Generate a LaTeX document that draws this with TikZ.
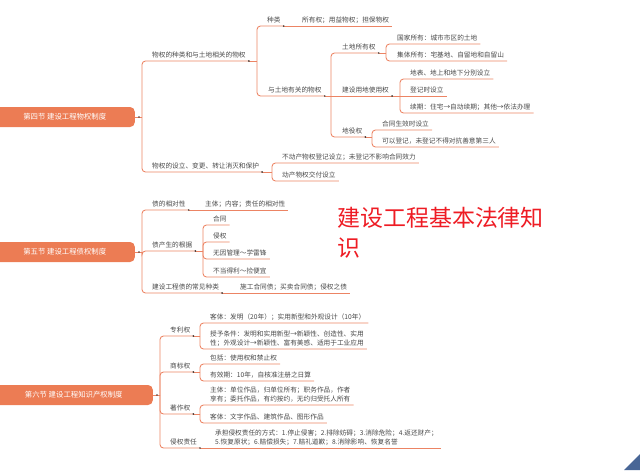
\documentclass[tikz,border=0pt]{standalone}
\usepackage{fontspec}
\newfontfamily\cjk{Noto Sans CJK SC}
\definecolor{lineclr}{RGB}{236,132,100}
\definecolor{rootclr}{RGB}{236,124,84}
\definecolor{txtclr}{RGB}{72,72,72}
\definecolor{markclr}{RGB}{70,60,55}
\definecolor{titleclr}{RGB}{238,28,36}
\definecolor{cornerclr}{RGB}{72,102,150}

\begin{document}
\begin{tikzpicture}[x=0.03cm, y=-0.03cm,
    rootbox/.style={fill=rootclr, rounded corners=4pt, minimum height=0.6cm, inner sep=0pt,
                    font=\cjk\fontsize{6.3}{7}\selectfont, text=white, anchor=east},
    topic/.style={anchor=south west, inner xsep=2.5pt, inner ysep=2pt, align=left,
                  font=\cjk\fontsize{5.7}{7.8}\selectfont, text=txtclr},
    link/.style={draw=lineclr, line width=0.75pt, rounded corners=3pt},
    title/.style={anchor=north west, inner sep=0pt, align=left,
                  font=\cjk\fontsize{19.6}{25.6}\selectfont, text=titleclr}]
  \useasboundingbox (0,0) rectangle (640,470);

  % 第四节
  \node[rootbox, minimum width=4.2cm] (s4) at (135,117) {第四节\ 建设工程物权制度};
  \node[topic] (A1) at (149,61) {物权的种类和与土地相关的物权};
  \node[topic] (B1) at (264,26) {种类};
  \node[topic] (C1) at (299,26) {所有权；用益物权；担保物权};
  \node[topic] (B2) at (265,96) {与土地有关的物权};
  \node[topic] (C2) at (339,53) {土地所有权};
  \node[topic] (D1) at (394,44) {国家所有：城市市区的土地};
  \node[topic] (D2) at (394,61) {集体所有：宅基地、自留地和自留山};
  \node[topic] (C3) at (339,96) {建设用地使用权};
  \node[topic] (D3) at (407,79) {地表、地上和地下分别设立};
  \node[topic] (D4) at (407,96) {登记时设立};
  \node[topic] (D5) at (407,113) {续期：住宅→自动续期；其他→依法办理};
  \node[topic] (C4) at (339,137) {地役权};
  \node[topic] (D6) at (379,130) {合同生效时设立};
  \node[topic] (D7) at (379,147) {可以登记，未登记不得对抗善意第三人};
  \node[topic] (A2) at (149,172) {物权的设立、变更、转让消灭和保护};
  \node[topic] (B3) at (279,163) {不动产物权登记设立；未登记不影响合同效力};
  \node[topic] (B4) at (279,181) {动产物权交付设立};

  \coordinate (j4) at (142,117);
  \coordinate (jA1) at (257,61);
  \coordinate (jB2) at (331,96);
  \coordinate (jC2) at (386,53);
  \coordinate (jC3) at (400,96);
  \coordinate (jC4) at (372,137);
  \coordinate (jA2) at (272,172);

  \draw[link] (s4.east) -- (j4);
  \draw[link] (j4) |- (A1.south east);
  \draw[link] (j4) |- (A2.south east);
  \draw[link] (A1.south east) -- (jA1);
  \draw[link] (jA1) |- (B1.south east);
  \draw[link] (jA1) |- (B2.south east);
  \draw[link] (B1.south east) -- (C1.south east);
  \draw[link] (B2.south east) -- (jB2);
  \draw[link] (jB2) |- (C2.south east);
  \draw[link] (jB2) -- (C3.south east);
  \draw[link] (jB2) |- (C4.south east);
  \draw[link] (C2.south east) -- (jC2);
  \draw[link] (jC2) |- (D1.south east);
  \draw[link] (jC2) |- (D2.south east);
  \draw[link] (C3.south east) -- (jC3);
  \draw[link] (jC3) |- (D3.south east);
  \draw[link] (jC3) -- (D4.south east);
  \draw[link] (jC3) |- (D5.south east);
  \draw[link] (C4.south east) -- (jC4);
  \draw[link] (jC4) |- (D6.south east);
  \draw[link] (jC4) |- (D7.south east);
  \draw[link] (A2.south east) -- (jA2);
  \draw[link] (jA2) |- (B3.south east);
  \draw[link] (jA2) |- (B4.south east);

  % 第五节
  \node[rootbox, minimum width=4.2cm] (s5) at (135,252) {第五节\ 建设工程债权制度};
  \node[topic] (E1) at (149,210) {债的相对性};
  \node[topic] (F1) at (202,210) {主体；内容；责任的相对性};
  \node[topic] (E2) at (149,251) {债产生的根据};
  \node[topic] (F2) at (210,225) {合同};
  \node[topic] (F3) at (210,242) {侵权};
  \node[topic] (F4) at (210,259) {无因管理～学雷锋};
  \node[topic] (F5) at (210,277) {不当得利～捡便宜};
  \node[topic] (E3) at (149,293) {建设工程债的常见种类};
  \node[topic] (F6) at (237,293) {施工合同债；买卖合同债；侵权之债};

  \coordinate (j5) at (142,252);
  \coordinate (jE2) at (203,251);

  \draw[link] (s5.east) -- (j5);
  \draw[link] (j5) |- (E1.south east);
  \draw[link] (j5) |- (E2.south east);
  \draw[link] (j5) |- (E3.south east);
  \draw[link] (E1.south east) -- (F1.south east);
  \draw[link] (E2.south east) -- (jE2);
  \draw[link] (jE2) |- (F2.south east);
  \draw[link] (jE2) |- (F3.south east);
  \draw[link] (jE2) |- (F4.south east);
  \draw[link] (jE2) |- (F5.south east);
  \draw[link] (E3.south east) -- (F6.south east);

  \node[title] (ttl) at (337,207) {建设工程基本法律知\\识};

  % 第六节
  \node[rootbox, minimum width=4.74cm] (s6) at (153,395) {第六节\ 建设工程知识产权制度};
  \node[topic] (G1) at (167,336) {专利权};
  \node[topic] (H1) at (207,323) {客体：发明（20年）；实用新型和外观设计（10年）};
  \node[topic] (H2) at (207,349) {授予条件：发明和实用新型→新颖性、创造性、实用\\性；外观设计→新颖性、富有美感、适用于工业应用};
  \node[topic] (G2) at (167,372) {商标权};
  \node[topic] (H3) at (207,364) {包括：使用权和禁止权};
  \node[topic] (H4) at (207,381) {有效期：10年，自核准注册之日算};
  \node[topic] (G3) at (167,414) {著作权};
  \node[topic] (H5) at (207,405) {主体：单位作品，归单位所有；职务作品，作者\\享有；委托作品，有约按约，无约归受托人所有};
  \node[topic] (H6) at (207,423) {客体：文字作品、建筑作品、图形作品};
  \node[topic] (G4) at (167,448) {侵权责任};
  \node[topic] (H7) at (212,448) {承担侵权责任的方式：1.停止侵害；2.排除妨碍；3.消除危险；4.返还财产；\\5.恢复原状；6.赔偿损失；7.赔礼道歉；8.消除影响、恢复名誉};

  \coordinate (j6) at (160,395);
  \coordinate (jG1) at (200,336);
  \coordinate (jG2) at (200,372);
  \coordinate (jG3) at (200,414);

  \draw[link] (s6.east) -- (j6);
  \draw[link] (j6) |- (G1.south east);
  \draw[link] (j6) |- (G2.south east);
  \draw[link] (j6) |- (G3.south east);
  \draw[link] (j6) |- (G4.south east);
  \draw[link] (G1.south east) -- (jG1);
  \draw[link] (jG1) |- (H1.south east);
  \draw[link] (jG1) |- (H2.south east);
  \draw[link] (G2.south east) -- (jG2);
  \draw[link] (jG2) |- (H3.south east);
  \draw[link] (jG2) |- (H4.south east);
  \draw[link] (G3.south east) -- (jG3);
  \draw[link] (jG3) |- (H5.south east);
  \draw[link] (jG3) |- (H6.south east);
  \draw[link] (G4.south east) -- (H7.south east);

  % collapse marks
  \foreach \n in {s4,s5,s6}
    \fill[markclr] (\n.east) ++(4,0) circle (0.8pt);
  \foreach \n in {A1,B1,B2,C2,C3,C4,A2,E1,E2,E3,G1,G2,G3,G4}
    \fill[markclr] (\n.south east) circle (0.8pt);

  \fill[cornerclr] (624,470) -- (640,454) -- (640,470) -- cycle;
\end{tikzpicture}
\end{document}
